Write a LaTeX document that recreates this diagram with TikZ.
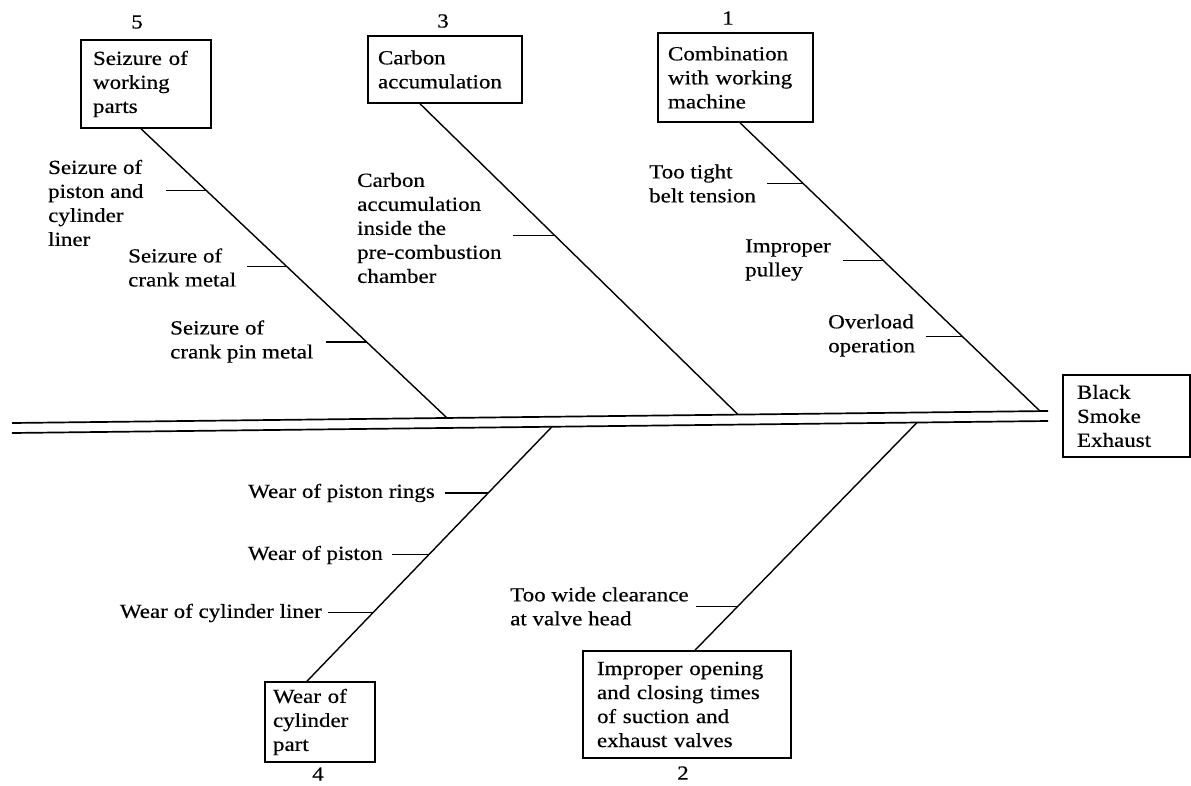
\documentclass[tikz,border=0pt]{standalone}
\usepackage{fontspec}
\setmainfont{Liberation Serif}[FakeStretch=1.15,FakeBold=0.4]
\usetikzlibrary{calc}
\begin{document}
\begin{tikzpicture}[x=1pt,y=-1pt,
  font=\fontsize{20}{24}\selectfont,
  causebox/.style={draw, line width=1.6pt, align=left, inner ysep=0pt},
  spineline/.style={line width=1.7pt},
  bone/.style={line width=1.4pt},
  lbl/.style={inner sep=0pt, align=left},
  num/.style={inner sep=0pt}]
\useasboundingbox (0,0) rectangle (1191,785);
% boxes
\node[causebox, text width=106pt, inner xsep=12pt, minimum height=88pt] (b5) at (146,84) {Seizure of\\working\\parts};
\node[causebox, text width=134pt, inner xsep=10pt, minimum height=67pt] (b3) at (445,69.5) {Carbon\\accumulation};
\node[causebox, text width=135pt, inner xsep=10pt, minimum height=89pt] (b1) at (735.5,77.5) {Combination\\with working\\machine};
\node[causebox, text width=99pt, inner xsep=14pt, minimum height=82pt] (bk) at (1126.5,416) {Black\\Smoke\\Exhaust};
\node[causebox, text width=94pt, inner xsep=8pt, minimum height=80pt] (b4) at (320,722) {Wear of\\cylinder\\part};
\node[causebox, text width=180pt, inner xsep=14pt, minimum height=107pt] (b2) at (687,704.5) {Improper opening\\and closing times\\of suction and\\exhaust valves};
% numbers
\node[num] (n5) at (137,22) {5};
\node[num] (n3) at (443,21) {3};
\node[num] (n1) at (728,18) {1};
\node[num] (n4) at (318,774) {4};
\node[num] (n2) at (683,773) {2};
% spine
\coordinate (LT) at (12,423); \coordinate (RT) at (1048,411);
\coordinate (LB) at (12,433); \coordinate (RB) at (1048,421);
\draw[spineline] (LT) -- (RT);
\draw[spineline] (LB) -- (RB);
\coordinate (j5) at ($(LT)!0.4199!(RT)$);
\coordinate (j3) at ($(LT)!0.7008!(RT)$);
\coordinate (j1) at ($(LT)!0.9923!(RT)$);
\coordinate (j4) at ($(LB)!0.5212!(RB)$);
\coordinate (j2) at ($(LB)!0.8736!(RB)$);
% bone starts
\coordinate (s5) at ([xshift=-5pt]b5.south);
\coordinate (s3) at ([xshift=-25pt]b3.south);
\coordinate (s1) at ([xshift=4.5pt]b1.south);
\coordinate (s4) at ([xshift=-13pt]b4.north);
\coordinate (s2) at ([xshift=8pt]b2.north);
% bones
\draw[bone] (s5) -- (j5);
\draw[bone] (s3) -- (j3);
\draw[bone] (s1) -- (j1);
\draw[bone] (s4) -- (j4);
\draw[bone] (s2) -- (j2);
% ticks
\draw[bone] ($(s5)!0.2138!(j5)$) coordinate (p5a) -- ++(-40,0) coordinate (k5a);
\draw[bone] ($(s5)!0.4759!(j5)$) coordinate (p5b) -- ++(-40,0) coordinate (k5b);
\draw[bone] ($(s5)!0.7379!(j5)$) coordinate (p5c) -- ++(-41,0) coordinate (k5c);
\draw[bone] ($(s3)!0.4236!(j3)$) coordinate (p3a) -- ++(-42,0) coordinate (k3a);
\draw[bone] ($(s1)!0.2111!(j1)$) coordinate (p1a) -- ++(-36,0) coordinate (k1a);
\draw[bone] ($(s1)!0.4775!(j1)$) coordinate (p1b) -- ++(-40,0) coordinate (k1b);
\draw[bone] ($(s1)!0.7405!(j1)$) coordinate (p1c) -- ++(-36,0) coordinate (k1c);
\draw[bone] ($(s4)!0.7403!(j4)$) coordinate (p4a) -- ++(-43,0) coordinate (k4a);
\draw[bone] ($(s4)!0.4974!(j4)$) coordinate (p4b) -- ++(-37,0) coordinate (k4b);
\draw[bone] ($(s4)!0.2703!(j4)$) coordinate (p4c) -- ++(-45,0) coordinate (k4c);
\draw[bone] ($(s2)!0.1926!(j2)$) coordinate (p2a) -- ++(-42,0) coordinate (k2a);
% cause labels
\node[lbl, anchor=west] (t5a) at (48,203) {Seizure of\\piston and\\cylinder\\liner};
\node[lbl, anchor=west] (t5b) at (128,267.5) {Seizure of\\crank metal};
\node[lbl, anchor=west] (t5c) at (170,341.5) {Seizure of\\crank pin metal};
\node[lbl, anchor=west] (t3a) at (357,228) {Carbon\\accumulation\\inside the\\pre-combustion\\chamber};
\node[lbl, anchor=west] (t1a) at (649,183.5) {Too tight\\belt tension};
\node[lbl, anchor=west] (t1b) at (745,260) {Improper\\pulley};
\node[lbl, anchor=west] (t1c) at (828,335.5) {Overload\\operation};
\node[lbl, anchor=east] (t4a) at (435,493) {Wear of piston rings};
\node[lbl, anchor=east] (t4b) at (383,555) {Wear of piston};
\node[lbl, anchor=east] (t4c) at (322,613) {Wear of cylinder liner};
\node[lbl, anchor=west] (t2a) at (510,606.5) {Too wide clearance\\at valve head};
\end{tikzpicture}
\end{document}
